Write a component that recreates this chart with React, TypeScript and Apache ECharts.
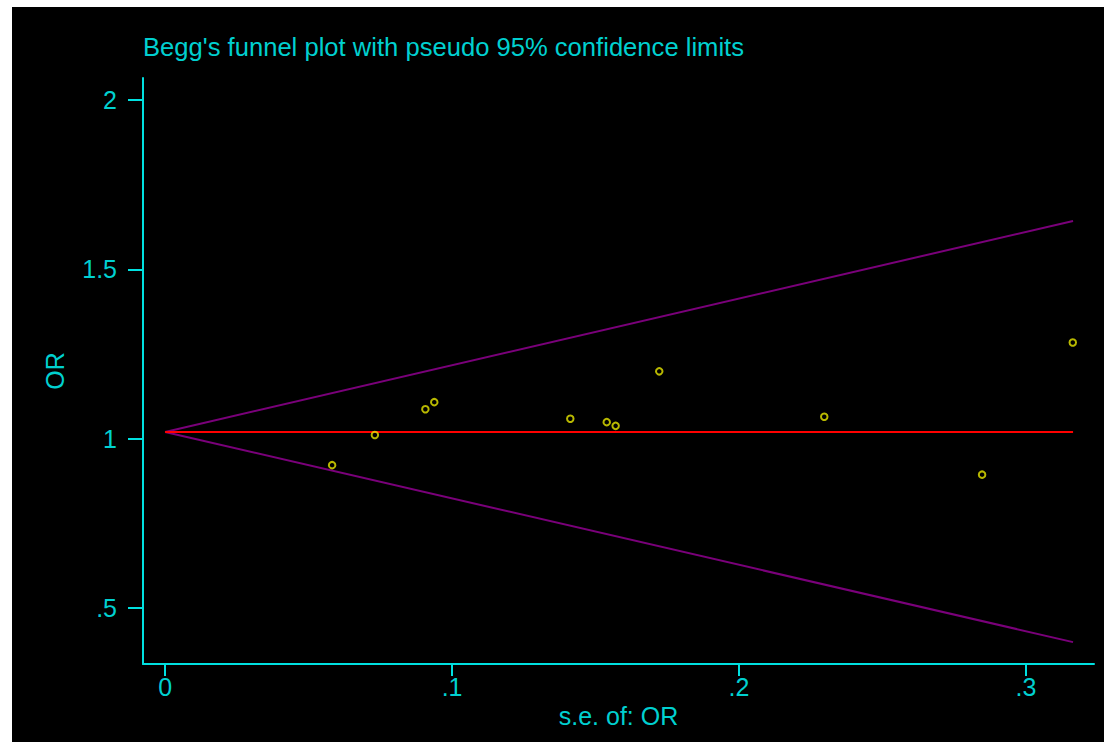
import React, { useEffect, useRef } from "react";
import * as echarts from "echarts";

const titleText = "Begg's funnel plot with pseudo 95% confidence limits";
const xAxisName = "s.e. of: OR";
const yAxisName = "OR";

// study points: standard error of OR and OR
const seValues = [0.0582, 0.0731, 0.0907, 0.0938, 0.1412, 0.1539, 0.157, 0.1722, 0.2297, 0.2847, 0.3163];
const orValues = [0.922, 1.011, 1.087, 1.108, 1.059, 1.049, 1.038, 1.199, 1.065, 0.894, 1.284];

// pooled estimate line and pseudo 95% limits (endpoints)
const pooledX = [0, 0.3164];
const pooledY = [1.02, 1.02];
const upperX = [0, 0.3164];
const upperY = [1.02, 1.643];
const lowerX = [0, 0.3164];
const lowerY = [1.02, 0.3996];

const xTicks = [0, 0.1, 0.2, 0.3];
const yTicks = [0.5, 1, 1.5, 2];

const fmt = (v: number) => (v === 0 ? "0" : String(v).replace(/^0\./, "."));

const TEXT = "#00d0d0";
const AXIS = "#00e0e0";
const FONT = "'Liberation Sans', Arial, sans-serif";

export default function App() {
  const ref = useRef<HTMLDivElement>(null);
  useEffect(() => {
    document.body.style.margin = "0";
    document.body.style.background = "#ffffff";
    const chart = echarts.init(ref.current!, undefined, { renderer: "svg" });
    const pairs = (xs: number[], ys: number[]) => xs.map((x, i) => [x, ys[i]]);
    chart.setOption({
      animation: false,
      backgroundColor: "#000000",
      title: {
        text: titleText,
        left: 131,
        top: 27,
        padding: 0,
        textStyle: { color: TEXT, fontSize: 25.6, fontWeight: "normal", fontFamily: FONT },
      },
      grid: { left: 131, top: 71, right: 10, bottom: 78, containLabel: false },
      xAxis: {
        type: "value",
        min: -0.0077,
        max: 0.3237,
        name: xAxisName,
        nameLocation: "middle",
        nameGap: 32,
        nameTextStyle: { color: TEXT, fontSize: 25, fontFamily: FONT },
        axisLine: { show: true, onZero: false, lineStyle: { color: AXIS, width: 2 } },
        axisTick: { show: true, length: 12, customValues: xTicks, lineStyle: { color: AXIS, width: 2 } },
        axisLabel: { customValues: xTicks, formatter: fmt, color: TEXT, fontSize: 25, fontFamily: FONT, margin: 10 },
        splitLine: { show: false },
      },
      yAxis: {
        type: "value",
        min: 0.335,
        max: 2.065,
        name: yAxisName,
        nameLocation: "middle",
        nameGap: 76,
        nameTextStyle: { color: TEXT, fontSize: 25, fontFamily: FONT },
        axisLine: { show: true, onZero: false, lineStyle: { color: AXIS, width: 2 } },
        axisTick: { show: true, length: 15, customValues: yTicks, lineStyle: { color: AXIS, width: 2 } },
        axisLabel: { customValues: yTicks, formatter: fmt, color: TEXT, fontSize: 25, fontFamily: FONT, margin: 26 },
        splitLine: { show: false },
      },
      series: [
        {
          type: "line",
          data: pairs(upperX, upperY),
          symbol: "none",
          lineStyle: { color: "#7a007a", width: 2 },
          silent: true,
        },
        {
          type: "line",
          data: pairs(lowerX, lowerY),
          symbol: "none",
          lineStyle: { color: "#7a007a", width: 2 },
          silent: true,
        },
        {
          type: "line",
          data: pairs(pooledX, pooledY),
          symbol: "none",
          lineStyle: { color: "#ff0000", width: 2 },
          silent: true,
        },
        {
          type: "scatter",
          data: pairs(seValues, orValues),
          symbol: "circle",
          symbolSize: 6.5,
          itemStyle: { color: "rgba(0,0,0,0)", borderColor: "#e6e600", borderWidth: 2 },
          z: 5,
        },
      ],
    });
    return () => chart.dispose();
  }, []);
  return (
    <div style={{ position: "relative", width: 1104, height: 742, background: "#ffffff" }}>
      <div ref={ref} style={{ position: "absolute", left: 12, top: 7, width: 1092, height: 735 }} />
    </div>
  );
}
